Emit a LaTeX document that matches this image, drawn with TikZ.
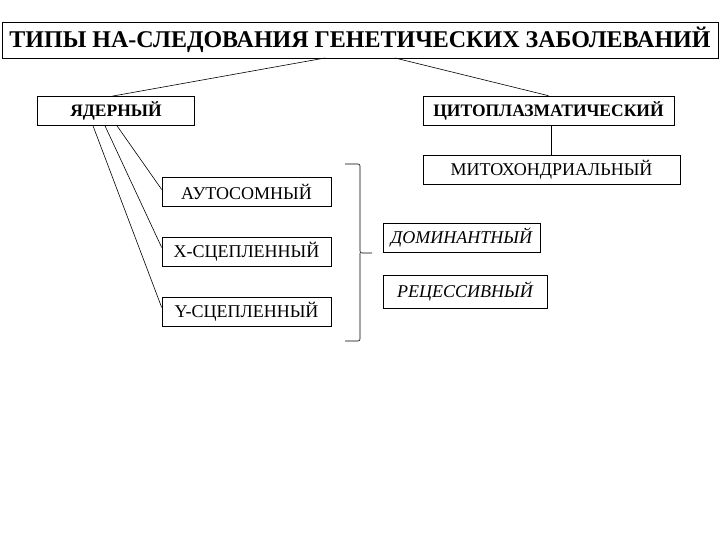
\documentclass[tikz,border=0pt]{standalone}
\usepackage{fontspec}
\setmainfont{Liberation Serif}
\usetikzlibrary{positioning}

\begin{document}
\begin{tikzpicture}[x=1pt,y=-1pt,line width=0.6pt,
  box/.style={draw,inner sep=0pt,minimum height=29pt,font=\fontsize{18}{20}\selectfont}]
\useasboundingbox (0,0) rectangle (720,540);

\node (title) at (360,40) [box,minimum width=716pt,minimum height=36pt,font=\fontsize{24}{28}\selectfont\bfseries] {ТИПЫ НА-СЛЕДОВАНИЯ ГЕНЕТИЧЕСКИХ ЗАБОЛЕВАНИЙ};

\node (yad) at (116,111) [box,minimum width=157pt,font=\fontsize{17.5}{20}\selectfont\bfseries] {ЯДЕРНЫЙ};
\node (cyto) at (548.5,110.5) [box,minimum width=251pt,font=\fontsize{17.5}{20}\selectfont\bfseries] {ЦИТОПЛАЗМАТИЧЕСКИЙ};
\node (mito) at (551.5,169.5) [box,minimum width=257pt] {МИТОХОНДРИАЛЬНЫЙ};

\node (auto) at (246.5,191.5) [box,minimum width=169pt] {АУТОСОМНЫЙ};
\node (xlink) at (246.5,251.5) [box,minimum width=169pt] {X-СЦЕПЛЕННЫЙ};
\node (ylink) at (246.5,311.5) [box,minimum width=169pt] {Y-СЦЕПЛЕННЫЙ};

\node (dom) at (461.5,237.5) [box,minimum width=157pt,font=\fontsize{18}{20}\selectfont\itshape] {ДОМИНАНТНЫЙ};
\node (rec) at (465,291.5) [box,minimum width=164pt,minimum height=33pt,font=\fontsize{18}{20}\selectfont\itshape] {РЕЦЕССИВНЫЙ};

\coordinate (t1) at (325,58);
\coordinate (t2) at (395,58);
\draw (t1) -- ([xshift=-4pt]yad.north);
\draw (t2) -- (cyto.north);
\draw (mito.north |- cyto.south) -- (mito.north);

\draw ([xshift=1pt]yad.south) -- ([yshift=2pt]auto.west);
\draw ([xshift=-11pt]yad.south) -- ([yshift=4pt]xlink.west);
\draw ([xshift=-23pt]yad.south) -- ([yshift=4pt]ylink.west);

% brace for both groups
\coordinate (btop) at (345,164);
\coordinate (bmid) at (360,253);
\coordinate (bbot) at (345,341);
\draw[rounded corners=2pt] (btop) -| (bmid) -- ++(12,0);
\draw[rounded corners=2pt] (bmid) |- (bbot);
\end{tikzpicture}
\end{document}
